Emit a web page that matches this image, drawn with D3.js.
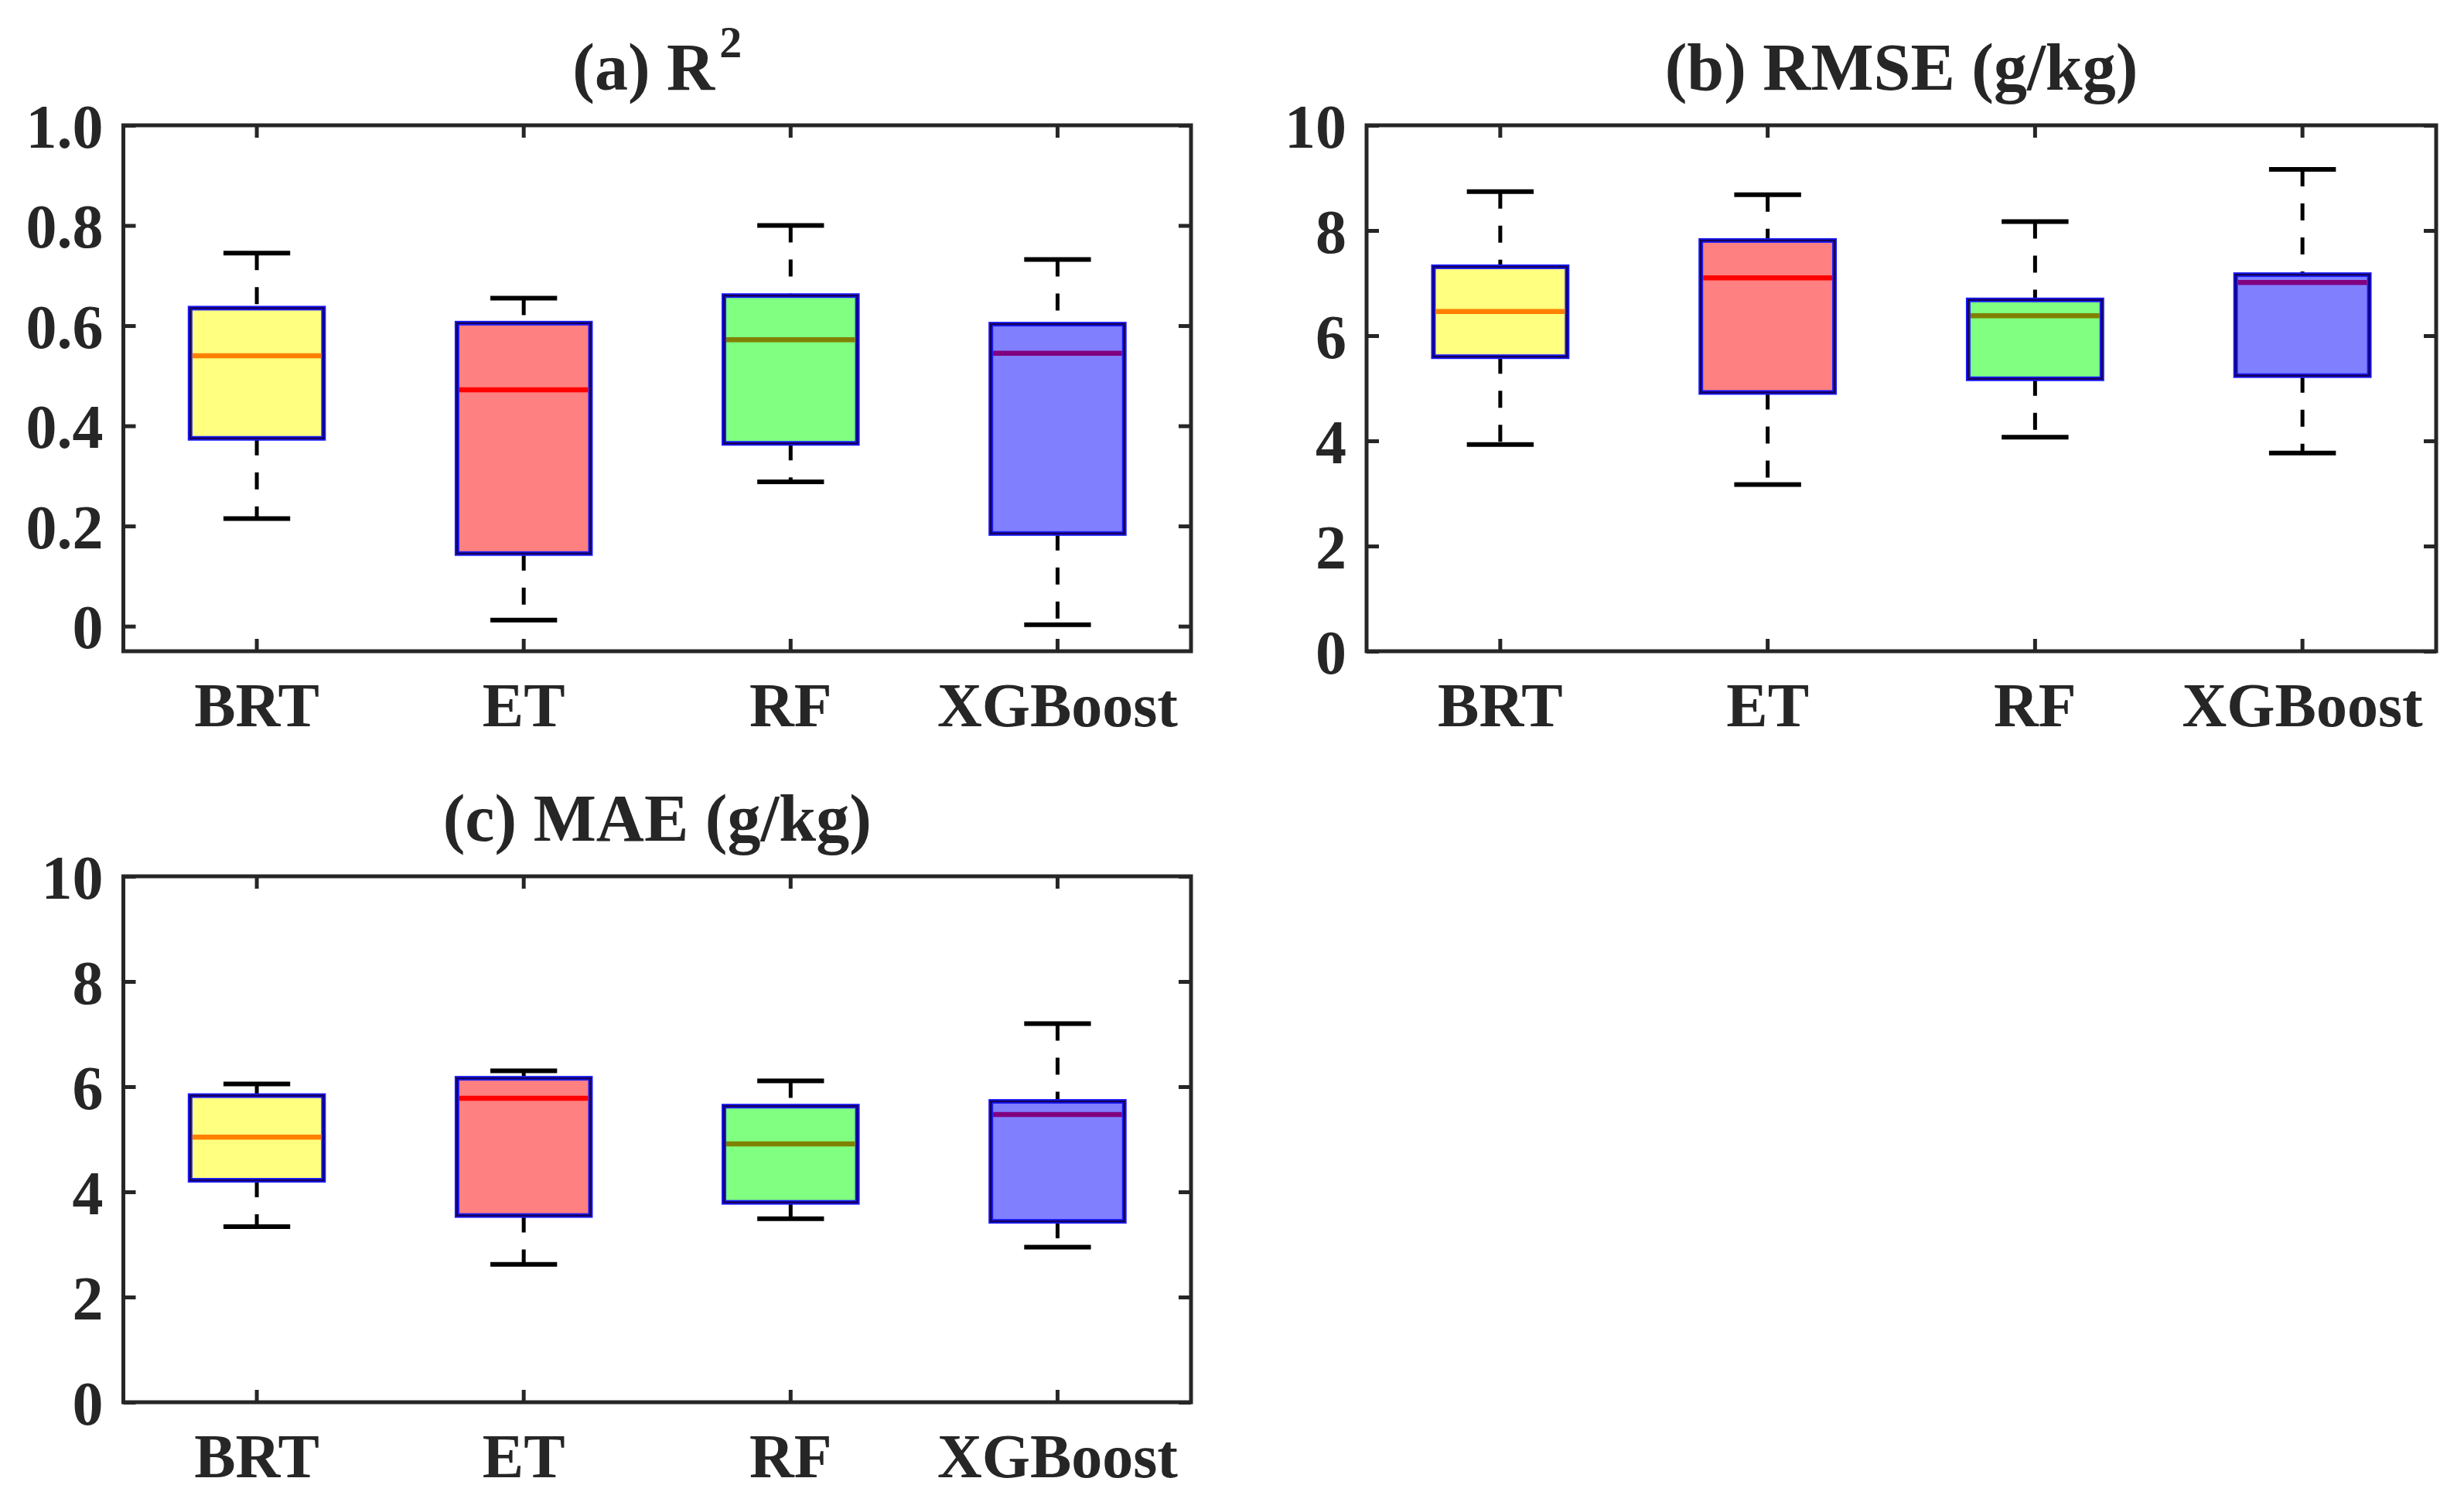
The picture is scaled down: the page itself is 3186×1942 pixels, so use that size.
<!DOCTYPE html>
<html>
<head>
<meta charset="utf-8">
<script src="https://cdn.jsdelivr.net/npm/d3@7"></script>
<style>
  body { margin: 0; background: #fff; }
  svg { display: block; }
  text { font-family: "Liberation Serif", "Times New Roman", serif; font-weight: bold; fill: #262626; }
</style>
</head>
<body>
<svg id="chart" width="3186" height="1942"></svg>
<script>
// Models on the x axis
const models = ['BRT', 'ET', 'RF', 'XGBoost'];

// Box statistics per model: [lower whisker, Q1, median, Q3, upper whisker]
const r2Stats = [
    [0.215, 0.375, 0.540, 0.635, 0.745],
    [0.012, 0.145, 0.472, 0.605, 0.655],
    [0.288, 0.365, 0.572, 0.660, 0.800],
    [0.003, 0.185, 0.545, 0.603, 0.732]
];
const rmseStats = [
    [3.93, 5.60, 6.46, 7.31, 8.74],
    [3.17, 4.92, 7.10, 7.81, 8.68],
    [4.07, 5.18, 6.38, 6.68, 8.17],
    [3.77, 5.24, 7.01, 7.16, 9.16]
];
const maeStats = [
    [3.34, 4.22, 5.04, 5.83, 6.05],
    [2.62, 3.55, 5.78, 6.16, 6.30],
    [3.49, 3.80, 4.91, 5.63, 6.11],
    [2.95, 3.44, 5.47, 5.72, 7.20]
];

// Tick values
const r2Ticks = [0, 0.2, 0.4, 0.6, 0.8, 1.0];
const errTicks = [0, 2, 4, 6, 8, 10];

// Colours
const boxFills = ['#ffff80', '#ff8080', '#80ff80', '#8080ff'];
const medianColors = ['#ff8000', '#ff0000', '#808000', '#800080'];
const axisColor = '#262626';

const svg = d3.select('#chart');
svg.append('rect').attr('width', 3186).attr('height', 1942).attr('fill', '#fff');

const panels = [
    { title: '(a) R', sup: '2', stats: r2Stats, domain: [-0.05, 1.0], ticks: r2Ticks,
      fmt: d => d === 0 ? '0' : d3.format('.1f')(d), x0: 159.5, x1: 1540, y0: 162, y1: 842 },
    { title: '(b) RMSE (g/kg)', sup: null, stats: rmseStats, domain: [0, 10], ticks: errTicks,
      fmt: d3.format('d'), x0: 1767, x1: 3150, y0: 162, y1: 842 },
    { title: '(c) MAE (g/kg)', sup: null, stats: maeStats, domain: [0, 10], ticks: errTicks,
      fmt: d3.format('d'), x0: 159.5, x1: 1540, y0: 1133, y1: 1813 }
];

function drawPanel(p) {
    const w = p.x1 - p.x0;
    const h = p.y1 - p.y0;
    const g = svg.append('g').attr('transform', `translate(${p.x0},${p.y0})`);

    const x = d3.scaleBand().domain(models).range([0, w]).padding(0);
    const y = d3.scaleLinear().domain(p.domain).range([h, 0]);
    const step = x.bandwidth();
    const boxW = step * 0.5;
    const capW = step * 0.25;

    // boxes
    const box = g.selectAll('g.box')
        .data(p.stats)
        .enter()
        .append('g')
        .attr('class', 'box')
        .attr('transform', (d, i) => `translate(${x(models[i]) + step / 2},0)`);

    // dashed whiskers
    box.append('line')
        .attr('x1', 0).attr('x2', 0)
        .attr('y1', d => y(d[4])).attr('y2', d => y(d[3]))
        .attr('stroke', '#000').attr('stroke-width', 5).attr('stroke-dasharray', '22,22');
    box.append('line')
        .attr('x1', 0).attr('x2', 0)
        .attr('y1', d => y(d[1])).attr('y2', d => y(d[0]))
        .attr('stroke', '#000').attr('stroke-width', 5).attr('stroke-dasharray', '22,22');

    // caps
    box.selectAll('line.cap')
        .data(d => [d[0], d[4]])
        .enter()
        .append('line')
        .attr('class', 'cap')
        .attr('x1', -capW / 2).attr('x2', capW / 2)
        .attr('y1', d => y(d)).attr('y2', d => y(d))
        .attr('stroke', '#000').attr('stroke-width', 6);

    // box body
    box.append('rect')
        .attr('x', -boxW / 2)
        .attr('y', d => y(d[3]))
        .attr('width', boxW)
        .attr('height', d => y(d[1]) - y(d[3]))
        .attr('fill', (d, i) => boxFills[i])
        .attr('stroke', '#1a1aff').attr('stroke-width', 6);
    box.append('rect')
        .attr('x', -boxW / 2)
        .attr('y', d => y(d[3]))
        .attr('width', boxW)
        .attr('height', d => y(d[1]) - y(d[3]))
        .attr('fill', 'none')
        .attr('stroke', '#14005a').attr('stroke-width', 2.5);

    // median
    box.append('line')
        .attr('x1', -boxW / 2 + 3).attr('x2', boxW / 2 - 3)
        .attr('y1', d => y(d[2])).attr('y2', d => y(d[2]))
        .attr('stroke', (d, i) => medianColors[i]).attr('stroke-width', 6.5);

    // axes with inward ticks
    const left = g.append('g')
        .call(d3.axisLeft(y).tickValues(p.ticks).tickFormat(p.fmt).tickSizeInner(-16).tickSizeOuter(0).tickPadding(26));
    g.append('g')
        .attr('transform', `translate(${w},0)`)
        .call(d3.axisRight(y).tickValues(p.ticks).tickFormat('').tickSizeInner(-16).tickSizeOuter(0));
    const bottom = g.append('g')
        .attr('transform', `translate(0,${h})`)
        .call(d3.axisBottom(x).tickSizeInner(-16).tickSizeOuter(0).tickPadding(40));
    g.append('g')
        .call(d3.axisTop(x).tickFormat('').tickSizeInner(-16).tickSizeOuter(0));

    g.selectAll('.domain').remove();
    g.selectAll('.tick line').attr('stroke', axisColor).attr('stroke-width', 5);
    left.selectAll('text').style('font-size', '80px').attr('dy', '0.35em');
    bottom.selectAll('text').style('font-size', '80px');

    // frame
    g.append('rect')
        .attr('width', w).attr('height', h)
        .attr('fill', 'none')
        .attr('stroke', axisColor).attr('stroke-width', 5);

    // title
    const t = g.append('text')
        .attr('x', w / 2)
        .attr('y', -46)
        .attr('text-anchor', 'middle')
        .style('font-size', '86px')
        .text(p.title);
    if (p.sup) {
        t.append('tspan')
            .attr('dx', 6)
            .attr('dy', -42)
            .style('font-size', '58px')
            .text(p.sup);
    }
}

panels.forEach(drawPanel);
</script>
</body>
</html>
